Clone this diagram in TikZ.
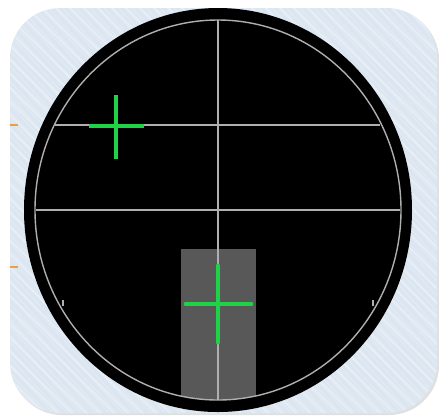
\documentclass[tikz,border=0pt]{standalone}
\usetikzlibrary{positioning}
\definecolor{sky}{RGB}{220,230,241}
\definecolor{hairgrey}{RGB}{175,175,175}
\definecolor{boxgrey}{RGB}{88,88,88}
\definecolor{crossgreen}{RGB}{30,212,70}
\definecolor{tickorange}{RGB}{235,160,60}
\begin{document}
\begin{tikzpicture}[x = .02cm, y = -.02cm,
    hair/.style = {draw = hairgrey, line width = .8pt},
    cross/.style = {draw = crossgreen, line width = 1.8pt},
    bigcross/.style = {draw = crossgreen, line width = 2.8pt, line cap = round}]
  \useasboundingbox (0,0) rectangle (439,417);
  % background plate
  \fill [black!12] (12,10) [rounded corners = 1cm] rectangle (439,415);
  \begin{scope}
    \clip [rounded corners = 1cm] (10,8) rectangle (437,413);
    \fill [sky] (0,0) rectangle (439,417);
    \foreach \s in {-400,-386,...,440}
      \draw [white, line width = 1.2pt, opacity = .3] (\s,0) -- (\s+420,417);
    \foreach \s in {-400,-393,...,440}
      \draw [white, line width = .5pt, opacity = .2] (\s,0) -- (\s+380,417);
  \end{scope}
  \draw [tickorange, line width = 1.1pt] (10,125) -- (18,125);
  \draw [tickorange, line width = 1.1pt] (10,267) -- (18,267);
  % scope body
  \coordinate (c) at (218,210);
  \fill [black] (c) ellipse (194 and 202);
  \begin{scope}
    \clip (c) ellipse (183 and 190);
    \fill [boxgrey] (181,249) rectangle (256,417);
  \end{scope}
  \draw [hair] (c) ellipse (183 and 190);
  \draw [hair] (218,20) -- (218,400);
  \draw [hair] (36,210) -- (400,210);
  \draw [hair] (55,125) -- (380,125);
  \draw [hairgrey, line width = .6pt] (63,300) -- (63,306) (373,300) -- (373,306);
  % targets
  \coordinate (t1) at (116,126);
  \draw [cross] (89,126) -- (144,126) (116,95) -- (116,159);
  \coordinate (t2) at (218,304);
  \draw [bigcross] (186,304) -- (251,304) (218,266) -- (218,342);
\end{tikzpicture}
\end{document}
